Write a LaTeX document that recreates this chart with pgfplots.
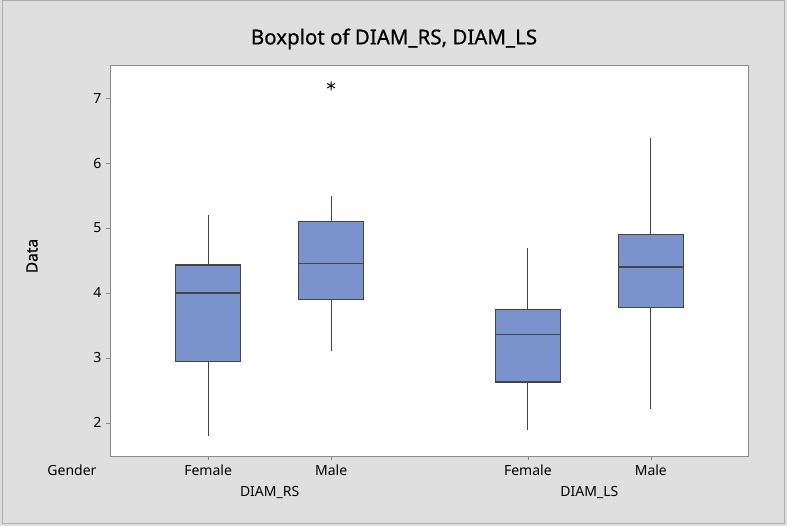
\documentclass[border=0pt]{standalone}
\usepackage{pgfplots}
\pgfplotsset{compat=1.18}
\usepgfplotslibrary{statistics}
\usepackage{fontspec}
\setmainfont{Noto Sans}
\newfontfamily\semib[FakeBold=0.6]{Noto Sans}
\definecolor{bg}{HTML}{DFDFDF}
\definecolor{boxblue}{HTML}{7B93CC}
\definecolor{boxedge}{HTML}{454545}
\definecolor{framegray}{HTML}{8A8A8A}
\begin{document}
\begin{tikzpicture}[x=1pt,y=1pt]
\useasboundingbox (0,0) rectangle (787,526);
\fill[bg] (0,0) rectangle (787,526);
\draw[color=framegray!70,line width=1pt] (2,2) rectangle (784,525);
\node[font=\semib\fontsize{20.5}{24}\selectfont] at (394,487) {Boxplot of DIAM\_RS, DIAM\_LS};
\node[font=\semib\fontsize{15.5}{18}\selectfont,rotate=90] at (32,270) {Data};
\node[font=\fontsize{14}{17}\selectfont] at (72,56) {Gender};
\begin{axis}[
  at={(110pt,70pt)}, anchor=south west,
  scale only axis, width=638.5pt, height=391pt,
  xmin=0.202, xmax=5.394, ymin=1.49, ymax=7.51,
  axis background/.style={fill=white},
  axis line style={framegray, line width=0.8pt},
  xtick={1,2,3.6,4.6},
  xticklabels={Female,Male,Female,Male},
  ytick={2,3,4,5,6,7},
  tick align=outside, xtick pos=bottom, ytick pos=left,
  major tick length=4pt,
  tick style={framegray, line width=0.6pt},
  /pgf/number format/assume math mode=true,
  ticklabel style={font=\fontsize{14}{17}\selectfont},
  yticklabel style={xshift=-1pt},
  xticklabel style={yshift=-1pt},
  boxplot/draw direction=y,
  boxplot/whisker extend=0,
  clip=false,
]
\addplot[boxplot prepared={draw position=1, median=4.0, upper quartile=4.43, lower quartile=2.95, upper whisker=5.2, lower whisker=1.8, box extend=0.53}, fill=boxblue, draw=boxedge, line width=1.1pt] coordinates {};
\addplot[boxplot prepared={draw position=2, median=4.45, upper quartile=5.10, lower quartile=3.90, upper whisker=5.5, lower whisker=3.11, box extend=0.53}, fill=boxblue, draw=boxedge, line width=1.1pt, mark=asterisk, mark size=4.5pt, mark options={black, line width=0.9pt}] table[row sep=\\, y index=0] {data\\ 7.19\\};
\addplot[boxplot prepared={draw position=3.6, median=3.36, upper quartile=3.74, lower quartile=2.63, upper whisker=4.70, lower whisker=1.89, box extend=0.53}, fill=boxblue, draw=boxedge, line width=1.1pt] coordinates {};
\addplot[boxplot prepared={draw position=4.6, median=4.40, upper quartile=4.90, lower quartile=3.78, upper whisker=6.39, lower whisker=2.21, box extend=0.53}, fill=boxblue, draw=boxedge, line width=1.1pt] coordinates {};
\node[font=\fontsize{14}{17}\selectfont] at (axis cs:1.5,1.49) [yshift=-37pt] {DIAM\_RS};
\node[font=\fontsize{14}{17}\selectfont] at (axis cs:4.1,1.49) [yshift=-37pt] {DIAM\_LS};
\end{axis}
\end{tikzpicture}
\end{document}
